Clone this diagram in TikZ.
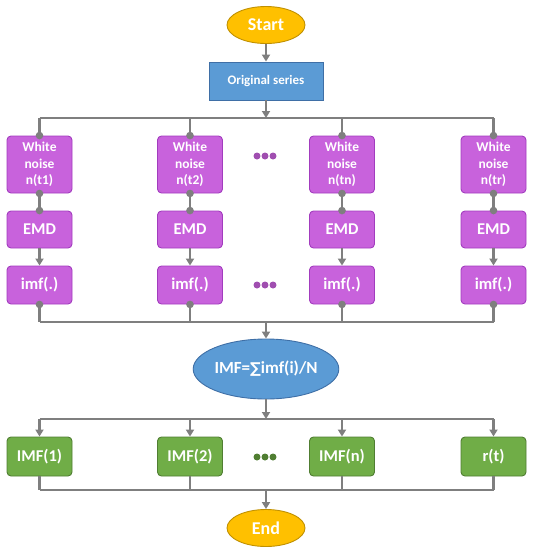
\documentclass[tikz,border=0pt]{standalone}
\usepackage{fontspec}
\setmainfont{Carlito}
\newfontfamily\symfont{DejaVu Sans}
\usetikzlibrary{arrows.meta,shapes.geometric}
\definecolor{pfill}{HTML}{C862DC}
\definecolor{pdraw}{HTML}{A23CBE}
\definecolor{bfill}{HTML}{5B9BD5}
\definecolor{bdraw}{HTML}{3F6FA6}
\definecolor{gfill}{HTML}{70AD47}
\definecolor{gdraw}{HTML}{507E32}
\definecolor{yfill}{HTML}{FFC000}
\definecolor{ydraw}{HTML}{C09000}
\definecolor{lgray}{HTML}{7F7F7F}
\tikzset{
  txt/.style={text=white,font=\bfseries},
  term/.style={ellipse,draw=ydraw,fill=yfill,line width=0.9pt,txt,font=\bfseries\fontsize{18}{21}\selectfont,inner sep=0pt,minimum width=78pt,minimum height=37pt},
  origbox/.style={rectangle,draw=bdraw,fill=bfill,line width=0.9pt,txt,font=\bfseries\fontsize{13}{15}\selectfont,minimum width=114pt,minimum height=38pt},
  pbox/.style={rectangle,rounded corners=4pt,draw=pdraw,fill=pfill,line width=0.9pt,txt,minimum width=65pt,inner sep=0pt,align=center},
  gbox/.style={rectangle,rounded corners=4pt,draw=gdraw,fill=gfill,line width=0.9pt,txt,minimum width=65pt,minimum height=39pt,inner sep=0pt,font=\bfseries\fontsize{16.5}{19}\selectfont},
  meanell/.style={ellipse,draw=bdraw,fill=bfill,line width=0.9pt,txt,font=\bfseries\fontsize{17}{20}\selectfont,inner sep=0pt,minimum width=127pt,minimum height=60pt},
  conn/.style={draw=lgray,line width=2.2pt},
  arr/.style={conn,-{Triangle[width=8pt,length=7pt]}},
  jdot/.style={fill=lgray},
  pdot/.style={fill=pfill!80!black},
  gdot/.style={fill=gdraw},
}
\begin{document}
\begin{tikzpicture}[x=1pt,y=-1pt]
\useasboundingbox (0,0) rectangle (534,550);
% terminals and central nodes
\node[term] (start) at (266,25) {Start};
\node[origbox] (orig) at (266,81) {Original series};
\coordinate (top) at (266,118);
\coordinate (bot) at (266,322);
\node[meanell] (mean) at (266,369) {IMF={\symfont\fontsize{15}{17}\selectfont ∑}imf(i)/N};
\coordinate (gtop) at (266,419);
\coordinate (gbot) at (266,490);
\node[term] (end) at (266,528) {End};
% columns
\foreach \i/\x/\lab in {1/39.5/t1,2/190/t2,3/342/tn,4/493.5/tr}{
  \node[pbox,minimum height=57pt,font=\bfseries\fontsize{13.5}{16.5}\selectfont] (w\i) at (\x,164.5) {White\\noise\\n(\lab)};
  \node[pbox,minimum height=37pt,font=\bfseries\fontsize{16.5}{19}\selectfont] (e\i) at (\x,229.5) {EMD};
  \node[pbox,minimum height=38pt,font=\bfseries\fontsize{16.5}{19}\selectfont] (m\i) at (\x,285) {imf(.)};
}
\node[gbox] (g1) at (39.5,456.5) {IMF(1)};
\node[gbox] (g2) at (190,456.5) {IMF(2)};
\node[gbox] (g3) at (342,456.5) {IMF(n)};
\node[gbox] (g4) at (493.5,456.5) {r(t)};
% connectors top
\draw[arr] (start) -- (orig);
\draw[conn] (w1.north |- top) -- (w4.north |- top);
\draw[arr] (orig) -- (top);
\foreach \i in {1,...,4}{
  \draw[conn] (w\i.north |- top) -- (w\i.north);
  \draw[conn] (w\i) -- (e\i);
  \draw[arr] (e\i) -- (m\i);
  \draw[conn] (m\i.south) -- (m\i.south |- bot);
  \fill[jdot] (w\i.north) circle (3.8);
  \fill[jdot] (w\i.south) circle (3.8);
  \fill[jdot] (e\i.north) circle (3.8);
  \fill[jdot] (m\i.south) circle (3.8);
}
\draw[conn] (m1.south |- bot) -- (m4.south |- bot);
\draw[arr] (bot) -- (mean);
\draw[arr] (mean) -- (gtop);
\draw[conn] (g1.north |- gtop) -- (g4.north |- gtop);
\foreach \i in {1,...,4}{
  \draw[arr] (g\i.north |- gtop) -- (g\i.north);
  \draw[conn] (g\i.south) -- (g\i.south |- gbot);
}
\draw[conn] (g1.south |- gbot) -- (g4.south |- gbot);
\draw[arr] (gbot) -- (end);
% ellipsis dots
\foreach \x in {257,265,273}{
  \fill[pdot] (\x,156) circle (3.5);
  \fill[pdot] (\x,285) circle (3.5);
  \fill[gdot] (\x,457) circle (3.5);
}
\end{tikzpicture}
\end{document}
